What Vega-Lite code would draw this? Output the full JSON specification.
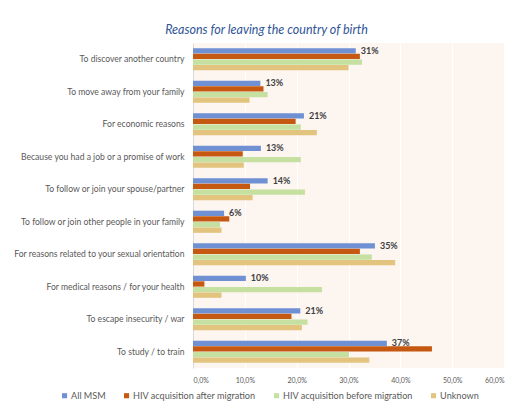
{
  "$schema": "https://vega.github.io/schema/vega-lite/v6.json",
  "width": 311,
  "height": 325,
  "autosize": {"type": "none"},
  "padding": {"left": 193, "top": 43, "right": 15, "bottom": 36},
  "background": "white",
  "title": {
    "text": "Reasons for leaving the country of birth",
    "font": "Lato",
    "fontSize": 12.5,
    "fontStyle": "italic",
    "fontWeight": "normal",
    "color": "#2f5597",
    "anchor": "middle",
    "dx": -82,
    "offset": 7
  },
  "config": {
    "locale": {"number": {"decimal": ",", "thousands": ".", "grouping": [3], "currency": ["", " €"]}},
    "view": {"fill": "#fcf5f0", "stroke": null},
    "font": "Lato"
  },
  "data": {
    "values": [
      {"reason": "To discover another country", "series": "All MSM", "value": 0.314},
      {"reason": "To discover another country", "series": "HIV acquisition after migration", "value": 0.322},
      {"reason": "To discover another country", "series": "HIV acquisition before migration", "value": 0.326},
      {"reason": "To discover another country", "series": "Unknown", "value": 0.300},
      {"reason": "To move away from your family", "series": "All MSM", "value": 0.130},
      {"reason": "To move away from your family", "series": "HIV acquisition after migration", "value": 0.136},
      {"reason": "To move away from your family", "series": "HIV acquisition before migration", "value": 0.144},
      {"reason": "To move away from your family", "series": "Unknown", "value": 0.109},
      {"reason": "For economic reasons", "series": "All MSM", "value": 0.214},
      {"reason": "For economic reasons", "series": "HIV acquisition after migration", "value": 0.198},
      {"reason": "For economic reasons", "series": "HIV acquisition before migration", "value": 0.208},
      {"reason": "For economic reasons", "series": "Unknown", "value": 0.239},
      {"reason": "Because you had a job or a promise of work", "series": "All MSM", "value": 0.131},
      {"reason": "Because you had a job or a promise of work", "series": "HIV acquisition after migration", "value": 0.096},
      {"reason": "Because you had a job or a promise of work", "series": "HIV acquisition before migration", "value": 0.208},
      {"reason": "Because you had a job or a promise of work", "series": "Unknown", "value": 0.098},
      {"reason": "To follow or join your spouse/partner", "series": "All MSM", "value": 0.144},
      {"reason": "To follow or join your spouse/partner", "series": "HIV acquisition after migration", "value": 0.110},
      {"reason": "To follow or join your spouse/partner", "series": "HIV acquisition before migration", "value": 0.216},
      {"reason": "To follow or join your spouse/partner", "series": "Unknown", "value": 0.115},
      {"reason": "To follow or join other people in your family", "series": "All MSM", "value": 0.060},
      {"reason": "To follow or join other people in your family", "series": "HIV acquisition after migration", "value": 0.070},
      {"reason": "To follow or join other people in your family", "series": "HIV acquisition before migration", "value": 0.052},
      {"reason": "To follow or join other people in your family", "series": "Unknown", "value": 0.055},
      {"reason": "For reasons related to your sexual orientation", "series": "All MSM", "value": 0.351},
      {"reason": "For reasons related to your sexual orientation", "series": "HIV acquisition after migration", "value": 0.322},
      {"reason": "For reasons related to your sexual orientation", "series": "HIV acquisition before migration", "value": 0.345},
      {"reason": "For reasons related to your sexual orientation", "series": "Unknown", "value": 0.390},
      {"reason": "For medical reasons / for your health", "series": "All MSM", "value": 0.102},
      {"reason": "For medical reasons / for your health", "series": "HIV acquisition after migration", "value": 0.022},
      {"reason": "For medical reasons / for your health", "series": "HIV acquisition before migration", "value": 0.249},
      {"reason": "For medical reasons / for your health", "series": "Unknown", "value": 0.055},
      {"reason": "To escape insecurity / war", "series": "All MSM", "value": 0.207},
      {"reason": "To escape insecurity / war", "series": "HIV acquisition after migration", "value": 0.190},
      {"reason": "To escape insecurity / war", "series": "HIV acquisition before migration", "value": 0.221},
      {"reason": "To escape insecurity / war", "series": "Unknown", "value": 0.210},
      {"reason": "To study / to train", "series": "All MSM", "value": 0.374},
      {"reason": "To study / to train", "series": "HIV acquisition after migration", "value": 0.461},
      {"reason": "To study / to train", "series": "HIV acquisition before migration", "value": 0.301},
      {"reason": "To study / to train", "series": "Unknown", "value": 0.340}
    ]
  },
  "encoding": {
    "y": {
      "field": "reason",
      "type": "nominal",
      "sort": null,
      "scale": {"paddingInner": 0.32, "paddingOuter": 0.16},
      "axis": {
        "title": null,
        "ticks": false,
        "labelFont": "Lato",
        "labelFontSize": 8.6,
        "labelColor": "#595959",
        "labelPadding": 9,
        "labelLimit": 300,
        "domainColor": "#d9d9d9",
        "domainWidth": 1
      }
    },
    "yOffset": {
      "field": "series",
      "type": "nominal",
      "sort": ["All MSM", "HIV acquisition after migration", "HIV acquisition before migration", "Unknown"],
      "scale": {"paddingInner": 0.05}
    },
    "x": {
      "field": "value",
      "type": "quantitative",
      "scale": {"domain": [0, 0.6], "nice": false},
      "axis": {
        "title": null,
        "format": ".1%",
        "values": [0, 0.1, 0.2, 0.3, 0.4, 0.5, 0.6],
        "grid": true,
        "gridColor": "#ffffff",
        "gridWidth": 1,
        "ticks": false,
        "domain": false,
        "labelFont": "Lato",
        "labelFontSize": 7,
        "labelColor": "#595959",
        "labelPadding": 8
      }
    }
  },
  "layer": [
    {
      "mark": {"type": "bar"},
      "encoding": {
        "color": {
          "field": "series",
          "type": "nominal",
          "scale": {
            "domain": ["All MSM", "HIV acquisition after migration", "HIV acquisition before migration", "Unknown"],
            "range": ["#6f91d4", "#c65911", "#c5e0a0", "#e2c47e"]
          },
          "legend": {
            "orient": "none",
            "legendX": -133,
            "legendY": 348,
            "direction": "horizontal",
            "title": null,
            "symbolType": "square",
            "symbolSize": 26,
            "symbolStrokeWidth": 0,
            "symbolOpacity": 1,
            "labelFont": "Lato",
            "labelFontSize": 9.1,
            "labelColor": "#595959",
            "labelOffset": 2,
            "columnPadding": 16
          }
        }
      }
    },
    {
      "transform": [{"filter": "datum.series === 'All MSM'"}],
      "mark": {"type": "text", "align": "left", "baseline": "middle", "dx": 5, "fontWeight": "bold", "fontSize": 9, "color": "#404040", "font": "Lato"},
      "encoding": {
        "text": {"field": "value", "type": "quantitative", "format": ".0%"}
      }
    }
  ]
}
